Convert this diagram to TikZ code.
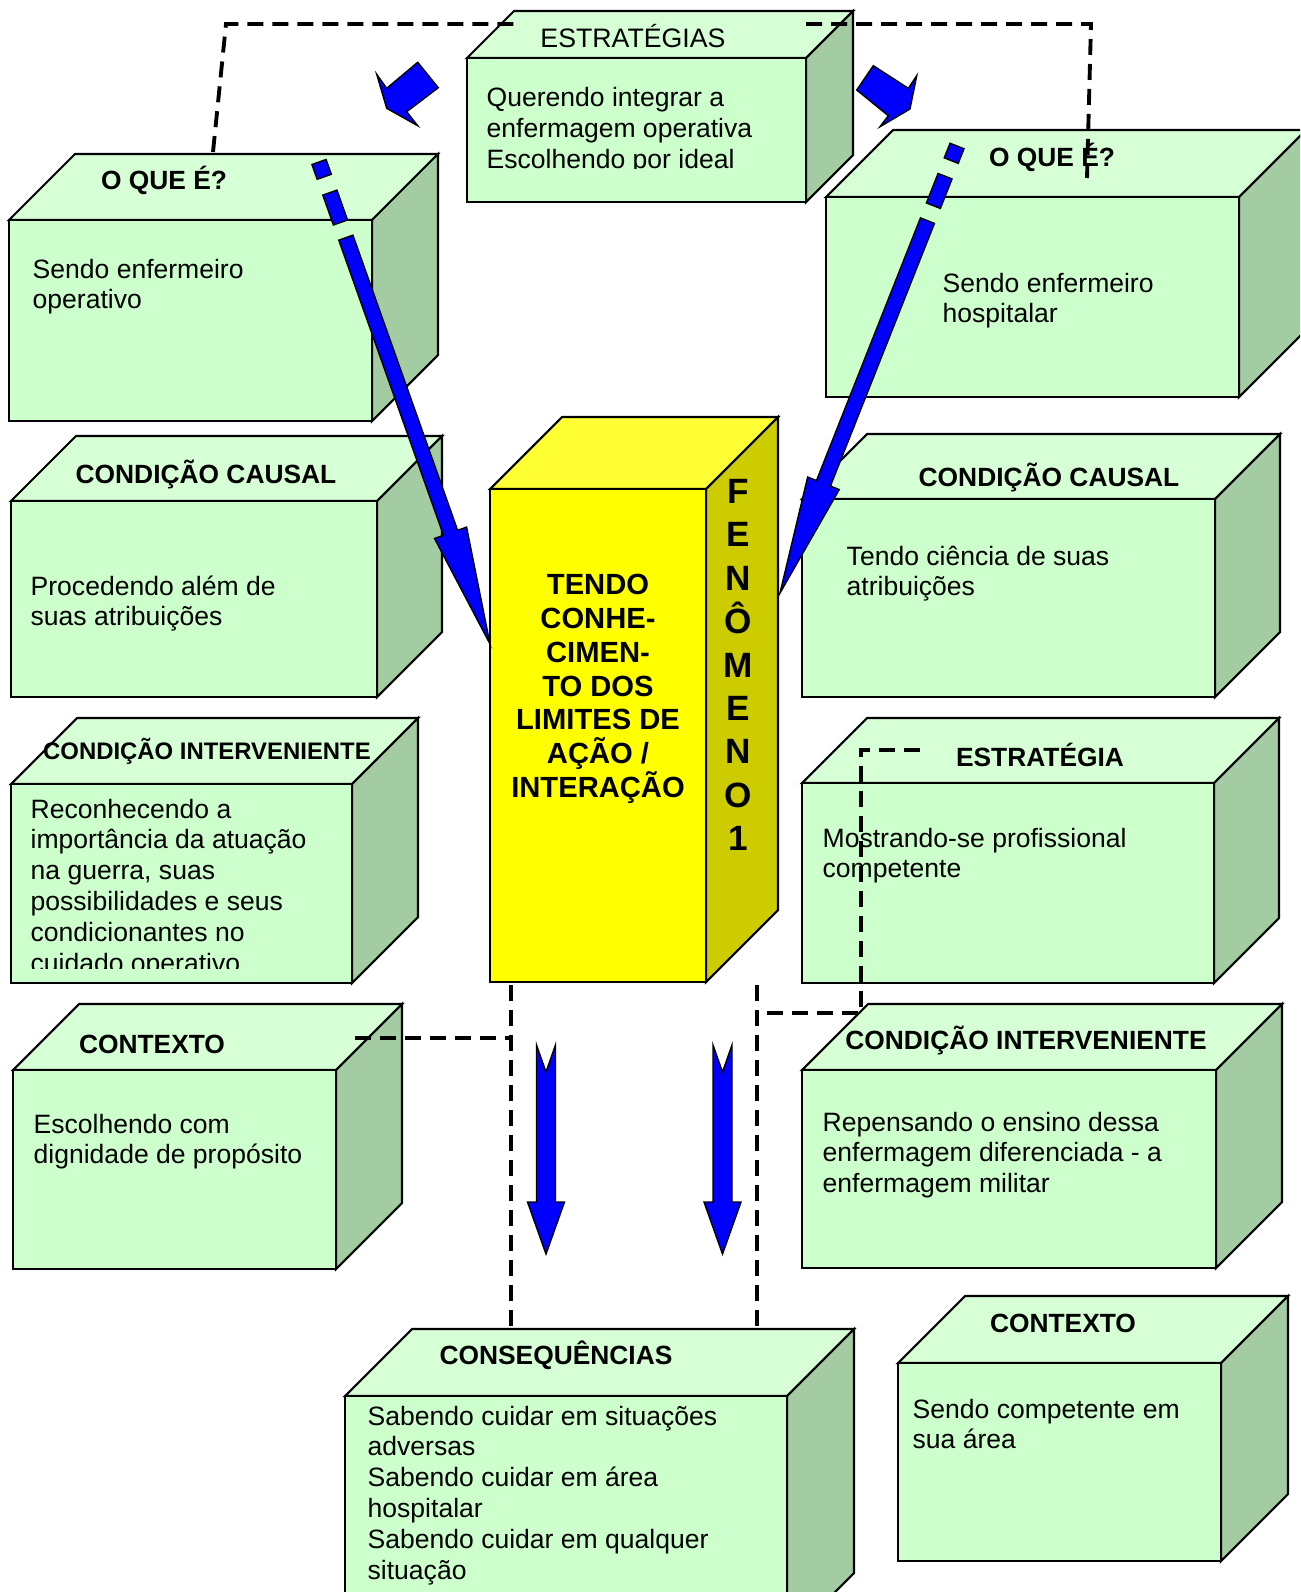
\documentclass[tikz,border=0pt]{standalone}
\usepackage{fontspec}
\setmainfont{Liberation Sans}
\usepackage{tikz}
\usetikzlibrary{calc}
\usepackage{xcolor}
\definecolor{boxfront}{RGB}{204,255,204}
\definecolor{boxtop}{RGB}{214,255,214}
\definecolor{boxside}{RGB}{163,204,163}
\definecolor{cubefront}{RGB}{255,255,0}
\definecolor{cubetop}{RGB}{255,255,51}
\definecolor{cubeside}{RGB}{204,204,0}

% 3d box: colour prefix, left, top, right, bottom, depth
\newcommand{\prism}[6]{%
  \filldraw[boxedge, fill=#1top] (#2,#3) -- (#2+#6,#3-#6) -- (#4+#6,#3-#6) -- (#4,#3) -- cycle;
  \filldraw[boxedge, fill=#1side] (#4,#3) -- (#4+#6,#3-#6) -- (#4+#6,#5-#6) -- (#4,#5) -- cycle;
  \filldraw[boxedge, fill=#1front] (#2,#3) rectangle (#4,#5);
}
\newcommand{\boxlines}[1]{\parbox[t]{70mm}{\raggedright #1}}
% striped block arrow from tail to tip
\newcommand{\stripedarrow}[2]{%
  \foreach \sa/\sb in {0mm/1.57mm, 3.25mm/6.42mm}
    \filldraw[bluearrow] ($(#1)!\sa!(#2)!0.75mm!90:(#2)$) -- ($(#1)!\sb!(#2)!0.75mm!90:(#2)$)
      -- ($(#1)!\sb!(#2)!-0.75mm!90:(#2)$) -- ($(#1)!\sa!(#2)!-0.75mm!90:(#2)$) -- cycle;
  \filldraw[bluearrow] ($(#1)!8.03mm!(#2)!0.75mm!90:(#2)$)
    -- ($(#2)!11.8mm!(#1)!0.75mm!90:(#2)$) -- ($(#2)!11.8mm!(#1)!1.7mm!90:(#2)$)
    -- (#2)
    -- ($(#2)!11.8mm!(#1)!-1.7mm!90:(#2)$) -- ($(#2)!11.8mm!(#1)!-0.75mm!90:(#2)$)
    -- ($(#1)!8.03mm!(#2)!-0.75mm!90:(#2)$) -- cycle;
}
% notched down arrow hanging from its top point
\newcommand{\notchedarrow}[1]{%
  \filldraw[bluearrow] (#1) ++(-9.5,0) -- ++(9.5,27) -- ++(9.5,-27) -- ++(0,157)
    -- ++(9,0) -- ++(-18.5,52) -- ++(-18.5,-52) -- ++(9,0) -- cycle;
}

\begin{document}
\begin{tikzpicture}[x=0.1mm, y=-0.1mm]
\tikzset{boxedge/.style={draw=black, line width=0.6pt}}
\tikzset{hdtext/.style={inner sep=0pt, font=\fontsize{7.5}{9}\selectfont\bfseries}}
\tikzset{bodytext/.style={anchor=base west, inner sep=0pt, font=\fontsize{7.55}{8.8}\selectfont}}
\tikzset{dashline/.style={line width=1.1pt, dash pattern=on 1.6mm off 0.9mm}}
\tikzset{bluearrow/.style={fill=blue, draw=black, line width=0.4pt}}

\clip (0,0) rectangle (1300,1592);

% Top row
\prism{box}{9}{220}{372}{421}{66}
\node[hdtext] (oqeL-hd) at (164,180) {O QUE É?};
\node[bodytext] (oqeL-txt) at (32,278) {\boxlines{Sendo enfermeiro\\operativo}};

\prism{box}{467}{58}{806}{202}{47}
\node[hdtext, font=\fontsize{7.6}{9}\selectfont] (estr-hd) at (633,36) {ESTRATÉGIAS};
\begin{scope}
\clip (467,58) rectangle (806,168);
\node[bodytext] (estr-txt) at (486,107) {\boxlines{Querendo integrar a\\enfermagem operativa\\Escolhendo por ideal}};
\end{scope}

\prism{box}{826}{197}{1239}{397}{67}
\node[hdtext] (oqeR-hd) at (1052,157) {O QUE É?};
\node[bodytext] (oqeR-txt) at (942,292) {\boxlines{Sendo enfermeiro\\hospitalar}};

% Causal conditions
\prism{box}{11}{501}{377}{697}{65}
\node[hdtext] (ccL-hd) at (206,474) {CONDIÇÃO CAUSAL};
\node[bodytext] (ccL-txt) at (30,595) {\boxlines{Procedendo além de\\suas atribuições}};

\prism{box}{802}{499}{1215}{697}{65}
\node[hdtext] (ccR-hd) at (1049,477) {CONDIÇÃO CAUSAL};
\node[bodytext] (ccR-txt) at (846,565) {\boxlines{Tendo ciência de suas\\atribuições}};

% Phenomenon
\prism{cube}{490}{489}{706}{982}{72}
\node[inner sep=0pt, align=center, font=\fontsize{8.3}{9.6}\selectfont\bfseries] (phen) at (598,689)
  {TENDO\\CONHE-\\CIMEN-\\TO DOS\\LIMITES DE\\AÇÃO /\\INTERAÇÃO};
\node[inner sep=0pt, align=center, font=\fontsize{10}{12.35}\selectfont\bfseries] (fen) at (738,665)
  {F\\E\\N\\Ô\\M\\E\\N\\O\\1};

% Intervening conditions and strategy
\prism{box}{11}{784}{352}{983}{66}
\node[hdtext, font=\fontsize{6.8}{8}\selectfont\bfseries] (ciL-hd) at (207,751) {CONDIÇÃO INTERVENIENTE};
\begin{scope}
\clip (11,784) rectangle (352,968);
\node[bodytext] (ciL-txt) at (30,818) {\boxlines{Reconhecendo a\\importância da atuação\\na guerra, suas\\possibilidades e seus\\condicionantes no\\cuidado operativo}};
\end{scope}

\prism{box}{802}{783}{1214}{983}{65}
\node[hdtext] (estrR-hd) at (1040,755) {ESTRATÉGIA};
\node[bodytext] (estrR-txt) at (822,847) {\boxlines{Mostrando-se profissional\\competente}};

% Context
\prism{box}{13}{1070}{336}{1269}{66}
\node[hdtext] (ctxL-hd) at (152,1044) {CONTEXTO};
\node[bodytext] (ctxL-txt) at (33,1133) {\boxlines{Escolhendo com\\dignidade de propósito}};

\prism{box}{802}{1070}{1216}{1268}{66}
\node[hdtext] (ciR-hd) at (1026,1040) {CONDIÇÃO INTERVENIENTE};
\node[bodytext] (ciR-txt) at (822,1131) {\boxlines{Repensando o ensino dessa\\enfermagem diferenciada - a\\enfermagem militar}};

% Bottom
\prism{box}{345}{1396}{787}{1640}{67}
\node[hdtext] (cons-hd) at (556,1355) {CONSEQUÊNCIAS};
\node[bodytext] (cons-txt) at (367,1425) {\boxlines{Sabendo cuidar em situações\\adversas\\Sabendo cuidar em área\\hospitalar\\Sabendo cuidar em qualquer\\situação}};

\prism{box}{898}{1363}{1221}{1561}{67}
\node[hdtext] (ctxR-hd) at (1063,1323) {CONTEXTO};
\node[bodytext] (ctxR-txt) at (912,1418) {\boxlines{Sendo competente em\\sua área}};

% Dashed links
\coordinate (d1a) at (213,152); \coordinate (d1b) at (226,24); \coordinate (d1c) at (514,24);
\coordinate (d2a) at (806,24); \coordinate (d2b) at (1091,24); \coordinate (d2c) at (1087,178);
\coordinate (d3a) at (920,750); \coordinate (d3b) at (861,750); \coordinate (d3c) at (861,1013); \coordinate (d3d) at (757,1013);
\coordinate (d4a) at (757,985); \coordinate (d4b) at (757,1328);
\coordinate (d5a) at (511,985); \coordinate (d5b) at (511,1328);
\coordinate (d6a) at (355,1038); \coordinate (d6b) at (511,1038);
\draw[dashline] (d1a) -- (d1b) -- (d1c);
\draw[dashline] (d2a) -- (d2b) -- (d2c);
\draw[dashline] (d3a) -- (d3b) -- (d3c) -- (d3d);
\draw[dashline] (d4a) -- (d4b);
\draw[dashline] (d5a) -- (d5b);
\draw[dashline] (d6a) -- (d6b);

% Blue arrows
\coordinate (la-tail) at (319,162); \coordinate (la-tip) at (490,644);
\coordinate (ra-tail) at (957,146); \coordinate (ra-tip) at (780,593);
\stripedarrow{la-tail}{la-tip}
\stripedarrow{ra-tail}{ra-tip}
\coordinate (dl-top) at (546,1045); \coordinate (dr-top) at (722.5,1045);
\notchedarrow{dl-top}
\notchedarrow{dr-top}
\filldraw[bluearrow] (376.7,74.3) -- (386.7,88.3) -- (417.7,62.3) -- (438.3,87.7)
  -- (406.7,111.7) -- (417.7,125.7) -- (386.7,108.3) -- cycle;
\filldraw[bluearrow] (856.7,90) -- (873.3,65.7) -- (908.3,88.3) -- (916.7,75.7)
  -- (910,109) -- (880,126.7) -- (888.3,115.7) -- cycle;
\end{tikzpicture}
\end{document}
